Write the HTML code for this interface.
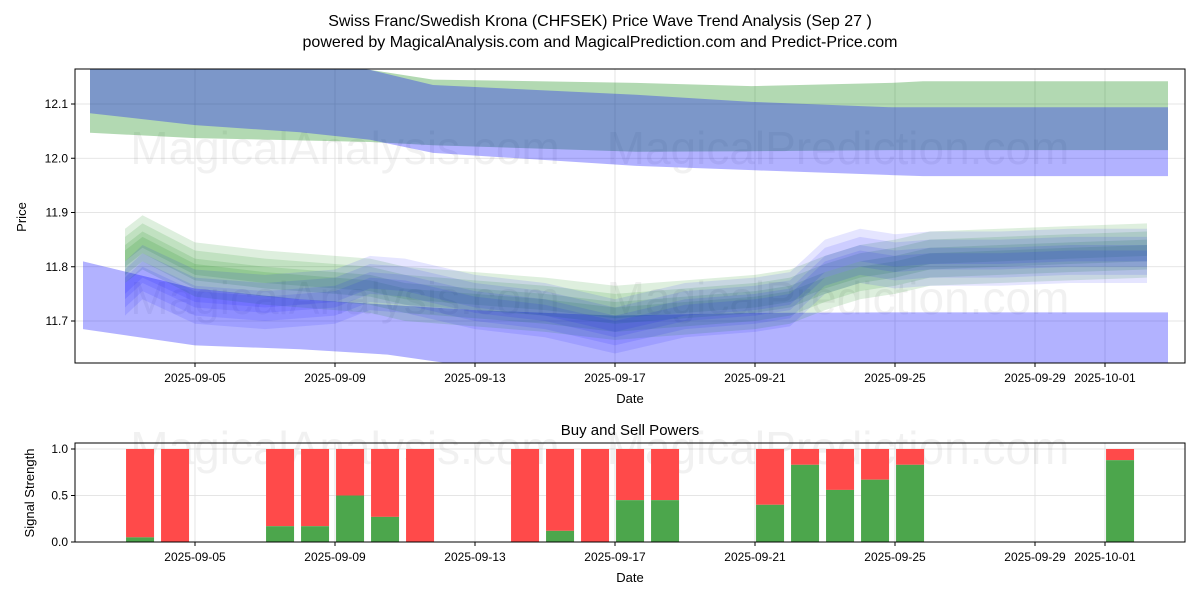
<!DOCTYPE html>
<html><head><meta charset="utf-8"><style>
html,body{margin:0;padding:0;background:#fff;}
svg{display:block;font-family:"Liberation Sans","DejaVu Sans",sans-serif;}
</style></head><body>
<svg id="chart" width="1200" height="600" viewBox="0 0 1200 600">
<text x="600" y="26" text-anchor="middle" font-size="16" fill="#000">Swiss Franc/Swedish Krona (CHFSEK) Price Wave Trend Analysis (Sep 27 )</text>
<text x="600" y="47" text-anchor="middle" font-size="16" fill="#000">powered by MagicalAnalysis.com and MagicalPrediction.com and Predict-Price.com</text>
<g id="topPanel"></g>
<g id="botPanel"></g>
</svg>
<script>
// ---- data ----
const bandDays = [2, 5, 8, 10, 11.8, 17.6, 20.9, 24.9, 25.8, 32.8];
const greenUpperTop = [12.20, 12.19, 12.175, 12.163, 12.145, 12.139, 12.133, 12.139, 12.142, 12.142];
const greenUpperBot = [12.047, 12.037, 12.033, 12.030, 12.024, 12.012, 12.013, 12.015, 12.015, 12.015];
const blueUpperTop = [12.20, 12.19, 12.175, 12.163, 12.135, 12.117, 12.104, 12.094, 12.094, 12.094];
const blueUpperBot = [12.083, 12.061, 12.048, 12.034, 12.010, 11.986, 11.978, 11.969, 11.967, 11.967];
const lowDays = [1.8, 5, 8, 10.5, 13, 17, 21, 25, 32.8];
const blueLowTop = [11.81, 11.76, 11.74, 11.73, 11.72, 11.71, 11.715, 11.716, 11.716];
const blueLowBot = [11.685, 11.655, 11.648, 11.638, 11.615, 11.60, 11.59, 11.59, 11.59];
const clusterDays = [3, 3.5, 5, 7, 9, 10, 11, 13, 15, 17, 19, 21, 22, 23, 24, 25, 26, 28, 30, 32.2];
const greenCenter = [11.82, 11.845, 11.795, 11.78, 11.77, 11.765, 11.75, 11.74, 11.73, 11.715, 11.725, 11.735, 11.745, 11.77, 11.79, 11.80, 11.815, 11.82, 11.825, 11.83];
const blueCenter = [11.76, 11.79, 11.745, 11.735, 11.745, 11.77, 11.765, 11.735, 11.72, 11.69, 11.72, 11.73, 11.74, 11.80, 11.82, 11.81, 11.815, 11.815, 11.82, 11.82];
const spreads = [0.01, 0.02, 0.035, 0.05];
const priceTicks = [11.7, 11.8, 11.9, 12.0, 12.1];
const dateTickDays = [5, 9, 13, 17, 21, 25, 29, 31];
const dateTickLabels = ["2025-09-05","2025-09-09","2025-09-13","2025-09-17","2025-09-21","2025-09-25","2025-09-29","2025-10-01"];
const barDays = [3, 4, 7, 8, 9, 10, 11, 14, 15, 16, 17, 18, 21, 22, 23, 24, 25, 31];
const buyPower = [0.05, 0, 0.17, 0.17, 0.5, 0.27, 0, 0, 0.12, 0, 0.45, 0.45, 0.4, 0.83, 0.56, 0.67, 0.83, 0.88];
const signalTicks = [0.0, 0.5, 1.0];

// ---- geometry ----
const L = 75, R = 1185, T1 = 69, B1 = 363, T2 = 443, B2 = 542;
const xs = d => 195 + (d - 5) * 35;
const ys = p => 104 + (12.1 - p) * 542.5;
const ys2 = v => 542 - v * 93;
const NS = "http://www.w3.org/2000/svg";
function mk(tag, attrs, parent, txt) {
  const e = document.createElementNS(NS, tag);
  for (const k in attrs) e.setAttribute(k, attrs[k]);
  if (txt !== undefined) e.textContent = txt;
  parent.appendChild(e); return e;
}
const topG = document.getElementById('topPanel'), botG = document.getElementById('botPanel');
const defs = mk('defs', {}, topG);
const cp = mk('clipPath', {id: 'c1'}, defs);
mk('rect', {x: L, y: T1, width: R - L, height: B1 - T1}, cp);

priceTicks.forEach(p => {
  const g = mk('line', {x1: L, x2: R, y1: ys(p), y2: ys(p), stroke: '#ddd', 'stroke-width': 0.8}, topG);
  
  
});
dateTickDays.forEach(d => {
  const g = mk('line', {x1: xs(d), x2: xs(d), y1: T1, y2: B1, stroke: '#ddd', 'stroke-width': 0.8}, topG);
  
  
});

[[345, 164], [838, 164], [345, 314], [838, 314]].forEach((w, i) => {
  const wt = mk('text', {x: w[0], y: w[1], 'text-anchor': 'middle', 'font-size': 46, fill: 'rgba(120,120,120,0.1)'}, topG, i % 2 ? 'MagicalPrediction.com' : 'MagicalAnalysis.com');
  
  
});

const plot = mk('g', {'clip-path': 'url(#c1)'}, topG);
function band(days, hi, lo, fill, name) {
  let d = days.map((v, i) => (i ? 'L' : 'M') + xs(v) + ',' + ys(hi[i])).join('');
  for (let i = days.length - 1; i >= 0; i--) d += 'L' + xs(days[i]) + ',' + ys(lo[i]);
  const p = mk('path', {d: d + 'Z', fill: fill}, plot);
  
  
}
band(bandDays, greenUpperTop, greenUpperBot, 'rgba(0,128,0,0.3)', 'green-upper-band');
band(lowDays, blueLowTop, blueLowBot, 'rgba(0,0,255,0.3)', 'blue-lower-band');
band(bandDays, blueUpperTop, blueUpperBot, 'rgba(0,0,255,0.3)', 'blue-upper-band');
spreads.forEach(s => {
  band(clusterDays, greenCenter.map(v => v + s), greenCenter.map(v => v - s), 'rgba(0,128,0,0.13)', 'green-wave-band');
});
spreads.forEach(s => {
  band(clusterDays, blueCenter.map(v => v + s), blueCenter.map(v => v - s), 'rgba(0,0,255,0.1)', 'blue-wave-band');
});

mk('rect', {x: L, y: T1, width: R - L, height: B1 - T1, fill: 'none', stroke: '#000', 'stroke-width': 1}, topG);
priceTicks.forEach(p => {
  mk('line', {x1: L - 4, x2: L, y1: ys(p), y2: ys(p), stroke: '#000'}, topG);
  const tl = mk('text', {x: L - 7, y: ys(p) + 4, 'text-anchor': 'end', 'font-size': 12}, topG, p.toFixed(1));
  
  
});
dateTickDays.forEach((d, i) => {
  mk('line', {x1: xs(d), x2: xs(d), y1: B1, y2: B1 + 4, stroke: '#000'}, topG);
  const tl = mk('text', {x: xs(d), y: B1 + 19, 'text-anchor': 'middle', 'font-size': 12}, topG, dateTickLabels[i]);
  
  
});
let tt = mk('text', {x: 630, y: 403, 'text-anchor': 'middle', 'font-size': 13}, topG, 'Date');


tt = mk('text', {x: 26, y: 217, 'text-anchor': 'middle', 'font-size': 13, transform: 'rotate(-90 26 217)'}, topG, 'Price');



tt = mk('text', {x: 630, y: 435, 'text-anchor': 'middle', 'font-size': 15}, botG, 'Buy and Sell Powers');


signalTicks.forEach(v => {
  const g = mk('line', {x1: L, x2: R, y1: ys2(v), y2: ys2(v), stroke: '#ddd', 'stroke-width': 0.8}, botG);
  
  
});
dateTickDays.forEach(d => {
  const g = mk('line', {x1: xs(d), x2: xs(d), y1: T2, y2: B2, stroke: '#ddd', 'stroke-width': 0.8}, botG);
  
  
});
[[345, 464], [838, 464]].forEach((w, i) => {
  const wt = mk('text', {x: w[0], y: w[1], 'text-anchor': 'middle', 'font-size': 46, fill: 'rgba(120,120,120,0.1)'}, botG, i ? 'MagicalPrediction.com' : 'MagicalAnalysis.com');
  
  
});
barDays.forEach((d, i) => {
  const cx = xs(d + 0.43), w = 28;
  const sell = mk('rect', {x: cx - w / 2, y: ys2(1), width: w, height: ys2(buyPower[i]) - ys2(1), fill: '#ff4a4a'}, botG);
  
  
  const buy = mk('rect', {x: cx - w / 2, y: ys2(buyPower[i]), width: w, height: ys2(0) - ys2(buyPower[i]), fill: '#4ca64c'}, botG);
  
  
});
mk('rect', {x: L, y: T2, width: R - L, height: B2 - T2, fill: 'none', stroke: '#000', 'stroke-width': 1}, botG);
signalTicks.forEach(v => {
  mk('line', {x1: L - 4, x2: L, y1: ys2(v), y2: ys2(v), stroke: '#000'}, botG);
  const tl = mk('text', {x: L - 7, y: ys2(v) + 4, 'text-anchor': 'end', 'font-size': 12}, botG, v.toFixed(1));
  
  
});
dateTickDays.forEach((d, i) => {
  mk('line', {x1: xs(d), x2: xs(d), y1: B2, y2: B2 + 4, stroke: '#000'}, botG);
  const tl = mk('text', {x: xs(d), y: B2 + 19, 'text-anchor': 'middle', 'font-size': 12}, botG, dateTickLabels[i]);
  
  
});
tt = mk('text', {x: 630, y: 582, 'text-anchor': 'middle', 'font-size': 13}, botG, 'Date');


tt = mk('text', {x: 34, y: 493, 'text-anchor': 'middle', 'font-size': 13, transform: 'rotate(-90 34 493)'}, botG, 'Signal Strength');


</script>
</body></html>
